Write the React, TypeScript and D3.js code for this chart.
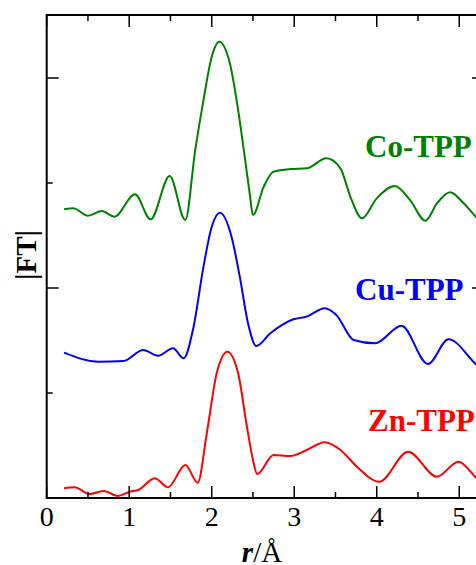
import React from "react";
import * as d3 from "d3";

// r (Å) and stacked |FT| values (axis units, offsets included)
const coR = [0.21,0.32,0.50,0.67,0.82,1.07,1.26,1.49,1.68,1.80,1.90,2.00,2.09,2.22,2.32,2.40,2.46,2.50,2.63,2.75,2.95,3.15,3.39,3.56,3.68,3.82,4.00,4.22,4.40,4.59,4.73,4.89,5.05,5.20,5.30];
const coFT = [2.750,2.759,2.689,2.733,2.679,2.892,2.654,3.067,2.648,3.314,3.790,4.203,4.346,4.140,3.695,3.251,2.902,2.695,2.965,3.108,3.133,3.140,3.235,3.140,2.870,2.664,2.854,2.971,2.841,2.641,2.806,2.911,2.810,2.679,2.600];

const cuR = [0.21,0.63,0.93,1.17,1.35,1.53,1.66,1.78,1.90,2.00,2.10,2.24,2.34,2.44,2.54,2.71,2.99,3.15,3.37,3.51,3.72,3.98,4.30,4.62,4.87,5.19,5.30];
const cuFT = [1.384,1.298,1.305,1.410,1.355,1.426,1.330,1.631,2.203,2.584,2.717,2.489,2.108,1.664,1.448,1.569,1.702,1.727,1.807,1.743,1.505,1.473,1.641,1.276,1.511,1.283,1.200];

const znR = [0.21,0.34,0.52,0.69,0.86,1.01,1.11,1.31,1.47,1.68,1.83,1.94,2.06,2.19,2.32,2.42,2.50,2.55,2.75,2.95,3.15,3.37,3.56,3.76,4.03,4.38,4.73,4.99,5.19,5.30];
const znFT = [0.092,0.102,0.038,0.067,0.019,0.060,0.076,0.188,0.102,0.314,0.146,0.616,1.188,1.393,1.188,0.711,0.362,0.229,0.410,0.400,0.457,0.530,0.457,0.298,0.155,0.441,0.203,0.346,0.203,0.110];

const seriesNames = ["Co-TPP", "Cu-TPP", "Zn-TPP"];
const seriesColors = ["#008000", "#0000ff", "#ff0000"];
const xTickLabels = ["0", "1", "2", "3", "4", "5"];
const xMajorTicks = [0, 1, 2, 3, 4, 5];
const xMinorTicks = [0.5, 1.5, 2.5, 3.5, 4.5];
const yMajorTicks = [0, 2, 4];
const yMinorTicks = [1, 3];

const W = 476, H = 565;
const left = 46.7, right = 484, top = 15, bottom = 498;
const FONT = "'Liberation Serif', 'Times New Roman', serif";

export default function App() {
  const x = d3.scaleLinear().domain([0, 5.3]).range([left, right]);
  const y = d3.scaleLinear().domain([0, 4.6]).range([bottom, top]);
  const line = d3.line<[number, number]>()
    .x(d => x(d[0])).y(d => y(d[1]))
    .curve(d3.curveMonotoneX);
  const series = [
    coR.map((r, i) => [r, coFT[i]] as [number, number]),
    cuR.map((r, i) => [r, cuFT[i]] as [number, number]),
    znR.map((r, i) => [r, znFT[i]] as [number, number]),
  ];
  const labelPos = [
    { x: 365, y: 157 },
    { x: 355, y: 300 },
    { x: 368, y: 430.7 },
  ];
  const major = 12, minor = 6;
  return (
    <svg width={W} height={H} style={{ position: "absolute", left: 0, top: 0, background: "#fff" }}>
      <defs>
        <clipPath id="plot"><rect x={left} y={top} width={right - left} height={bottom - top} /></clipPath>
      </defs>
      <g clipPath="url(#plot)">
        {series.map((s, i) => (
          <path key={i} d={line(s) || ""} fill="none" stroke={seriesColors[i]} strokeWidth={2} strokeLinejoin="round" />
        ))}
      </g>
      <rect x={left} y={top} width={right - left} height={bottom - top} fill="none" stroke="#000" strokeWidth={2} />
      {xMajorTicks.map(t => (
        <g key={"xm" + t}>
          <line x1={x(t)} x2={x(t)} y1={bottom} y2={bottom - major} stroke="#000" strokeWidth={1.5} />
          <line x1={x(t)} x2={x(t)} y1={top} y2={top + major} stroke="#000" strokeWidth={1.5} />
        </g>
      ))}
      {xMinorTicks.map(t => (
        <g key={"xn" + t}>
          <line x1={x(t)} x2={x(t)} y1={bottom} y2={bottom - minor} stroke="#000" strokeWidth={1.5} />
          <line x1={x(t)} x2={x(t)} y1={top} y2={top + minor} stroke="#000" strokeWidth={1.5} />
        </g>
      ))}
      {yMajorTicks.map(t => (
        <g key={"ym" + t}>
          <line x1={left} x2={left + major} y1={y(t)} y2={y(t)} stroke="#000" strokeWidth={1.5} />
          <line x1={right} x2={right - major} y1={y(t)} y2={y(t)} stroke="#000" strokeWidth={1.5} />
        </g>
      ))}
      {yMinorTicks.map(t => (
        <g key={"yn" + t}>
          <line x1={left} x2={left + minor} y1={y(t)} y2={y(t)} stroke="#000" strokeWidth={1.5} />
          <line x1={right} x2={right - minor} y1={y(t)} y2={y(t)} stroke="#000" strokeWidth={1.5} />
        </g>
      ))}
      {xMajorTicks.map((t, i) => (
        <text key={"xl" + t} x={x(t)} y={526} textAnchor="middle" fontFamily={FONT} fontSize={28} fill="#000">
          {xTickLabels[i]}
        </text>
      ))}
      <text x={262} y={562} textAnchor="middle" fontFamily={FONT} fontSize={29} fill="#000">
        <tspan fontWeight="bold" fontStyle="italic">r</tspan>
        <tspan>/Å</tspan>
      </text>
      <text transform="translate(36,255) rotate(-90)" textAnchor="middle" fontFamily={FONT} fontSize={29} fontWeight="bold" fill="#000">
        |FT|
      </text>
      {seriesNames.map((n, i) => (
        <text key={n} x={labelPos[i].x} y={labelPos[i].y} fontFamily={FONT} fontSize={31} fontWeight="bold" fill={seriesColors[i]}>
          {n}
        </text>
      ))}
    </svg>
  );
}
